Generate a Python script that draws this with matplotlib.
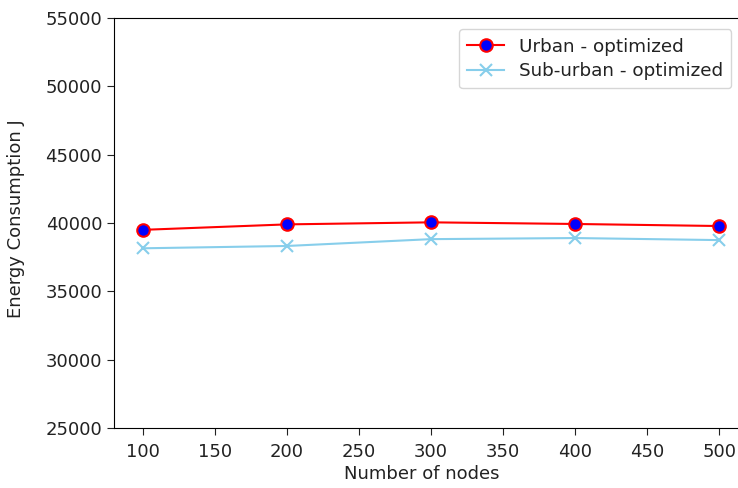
import matplotlib
matplotlib.use("Agg")
import matplotlib.pyplot as plt

nodes = [100, 200, 300, 400, 500]
urban = [39500, 39900, 40050, 39930, 39780]
suburban = [38150, 38320, 38820, 38900, 38750]

fig = plt.figure(figsize=(7.38, 4.88), dpi=100)
# axes run slightly past the right edge of the canvas
ax = fig.add_axes([0.1545, 0.123, 0.859, 0.84])
ax.plot(nodes, urban, color="red", marker="o", markerfacecolor="blue",
        markeredgecolor="red", markeredgewidth=1.5, markersize=9,
        label="Urban - optimized")
ax.plot(nodes, suburban, color="skyblue", marker="x", markersize=9,
        markeredgewidth=1.5, label="Sub-urban - optimized")
ax.set_ylim(25000, 55000)
ax.set_xlim(80, 520)
ax.set_xticks(range(100, 501, 50))
ax.tick_params(labelsize=13, length=5, colors="#222222")
ax.tick_params(axis="x", pad=6)
ax.set_xlabel("Number of nodes", fontsize=13, color="#222222")
ax.set_ylabel("Energy Consumption J", fontsize=13, color="#222222")
ax.xaxis.set_label_coords(0.486, -0.09)
ax.yaxis.set_label_coords(-0.14, 0.51)
leg = ax.legend(loc="upper right", bbox_to_anchor=(0.988, 0.995), fontsize=13.2,
                labelspacing=0.35, borderpad=0.45)
for t in leg.get_texts():
    t.set_color("#222222")
fig.savefig("out.png", dpi=100)
